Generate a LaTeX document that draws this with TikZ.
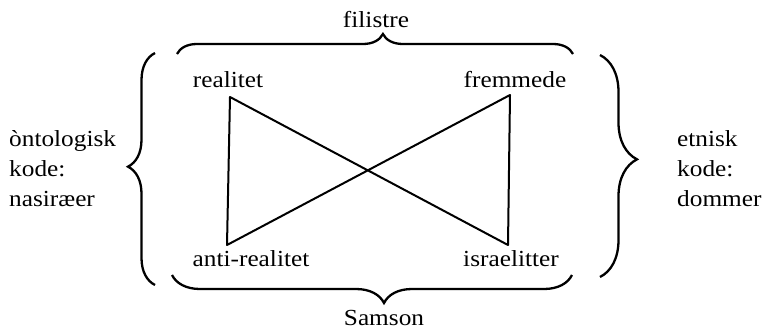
\documentclass[tikz,border=0pt]{standalone}
\usepackage{fontspec}
\setmainfont{Liberation Serif}[FakeStretch=1.1]
\usetikzlibrary{decorations.pathreplacing,positioning}

\begin{document}
\begin{tikzpicture}[x=1pt, y=-1pt,
  word/.style={font=\fontsize{23}{30}\selectfont, inner sep=0pt},
  brc/.style 2 args={decorate, decoration={brace, amplitude=#1, aspect=#2}, line width=2.3pt},
  link/.style={line width=2pt, line join=round}]
  \useasboundingbox (0,0) rectangle (764,330);

  % the four corners
  \node[word, anchor=base] (realitet) at (228,87) {realitet};
  \node[word, anchor=base] (fremmede) at (515,87) {fremmede};
  \node[word, anchor=base] (antireal) at (251,266) {anti-realitet};
  \node[word, anchor=base] (israel) at (511,266) {israelitter};

  % the four sides
  \node[word, anchor=base] (filistre) at (376,27) {filistre};
  \node[word, anchor=base] (samson) at (384,325) {Samson};
  \node[word, anchor=west, align=left] (onto) at (9,169) {òntologisk\\kode:\\nasiræer};
  \node[word, anchor=west, align=left] (etnisk) at (677,169) {etnisk\\kode:\\dommer};

  \coordinate (rl) at (230,97);
  \coordinate (fr) at (510,95);
  \coordinate (ar) at (227,245);
  \coordinate (is) at (508,245);
  \draw[link] (rl) -- (ar) -- (fr) -- (is) -- cycle;

  \draw[brc={20pt}{0.52}] (177,54) -- (573,54);
  \draw[brc={28pt}{0.47}] (572,275) -- (172,275);
  \draw[brc={27pt}{0.51}] (155,285) -- (155,53);
  \draw[brc={37pt}{0.47}] (600,55) -- (600,277);
\end{tikzpicture}
\end{document}
